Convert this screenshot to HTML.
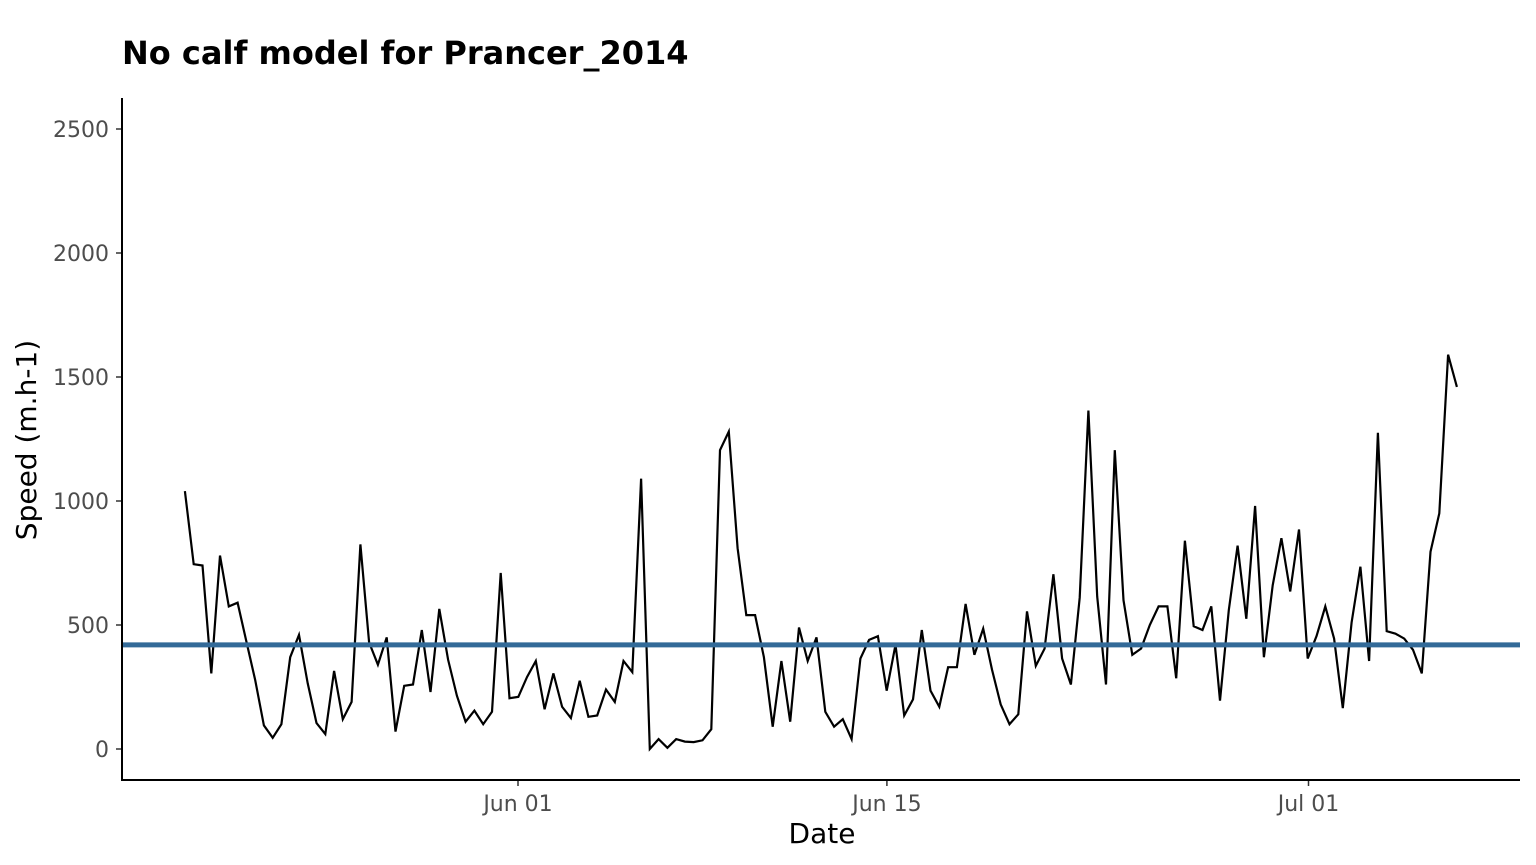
<!DOCTYPE html>
<html><head><meta charset="utf-8"><style>
body{margin:0;background:#fff;}
svg{display:block;font-family:"DejaVu Sans","Liberation Sans",sans-serif;}
</style></head><body>
<svg width="1536" height="865">
<text x="122" y="64" font-size="32" font-weight="bold">No calf model for Prancer_2014</text>
<g id="yaxis"></g>
<g id="xaxis"></g>
<g id="marks"></g>
<line x1="122" y1="98" x2="122" y2="781" stroke="#000" stroke-width="2"/>
<line x1="121" y1="780" x2="1520" y2="780" stroke="#000" stroke-width="2"/>
<text x="822" y="843" font-size="28" text-anchor="middle">Date</text>
<text transform="translate(36,440) rotate(-90)" font-size="28" text-anchor="middle">Speed (m.h-1)</text>
</svg>
<script>
const speeds=[1040,745,740,305,780,575,590,435,280,95,45,100,370,460,265,105,60,315,120,190,825,430,340,450,70,255,260,480,230,565,360,215,110,155,100,150,710,205,210,290,355,160,305,170,125,275,130,135,240,190,355,310,1090,0,40,5,40,30,28,35,80,1205,1280,810,540,540,370,90,355,110,490,355,450,150,90,120,40,365,440,455,235,420,135,200,480,235,170,330,330,585,380,485,320,180,100,140,555,335,405,705,365,260,610,1365,615,260,1205,600,380,405,500,575,575,285,840,495,480,575,195,560,820,525,980,370,660,850,635,885,365,455,575,445,165,510,735,355,1275,475,465,445,400,305,795,950,1590,1460];
const startDay=-12.64; // days relative to Jun 01
const stepDay=0.3329;
const meanSpeed=420;
const yTicks=[0,500,1000,1500,2000,2500];
const xTickDays=[0,14,30];
const xTickLabels=["Jun 01","Jun 15","Jul 01"];
const NS="http://www.w3.org/2000/svg";
function X(d){return 518+d*26.35;}
function Y(v){return 749-v*0.248;}
function mk(tag,attrs,parent,txt){const e=document.createElementNS(NS,tag);for(const k in attrs)e.setAttribute(k,attrs[k]);if(txt!==undefined)e.textContent=txt;parent.appendChild(e);return e;}
const ya=document.getElementById('yaxis'),xa=document.getElementById('xaxis'),mg=document.getElementById('marks');
yTicks.forEach(v=>{
 const t=mk('line',{x1:116,x2:122,y1:Y(v),y2:Y(v),stroke:'#333','stroke-width':1.5},ya);
 
 
 const l=mk('text',{x:109,y:Y(v)+8,'font-size':22,fill:'#4d4d4d','text-anchor':'end'},ya,String(v));
 
 
});
xTickDays.forEach((d,i)=>{
 const t=mk('line',{x1:X(d),x2:X(d),y1:780,y2:786,stroke:'#333','stroke-width':1.5},xa);
 
 
 const l=mk('text',{x:X(d),y:811,'font-size':22,fill:'#4d4d4d','text-anchor':'middle'},xa,xTickLabels[i]);
 
 
});
const pts=speeds.map((v,i)=>X(startDay+i*stepDay).toFixed(1)+','+Y(v).toFixed(1)).join(' ');
const pl=mk('polyline',{points:pts,fill:'none',stroke:'#000','stroke-width':2.2,'stroke-linejoin':'miter'},mg);


const ml=mk('line',{x1:122,x2:1520,y1:Y(meanSpeed),y2:Y(meanSpeed),stroke:'#336a98','stroke-width':5},mg);


</script>
</body></html>
